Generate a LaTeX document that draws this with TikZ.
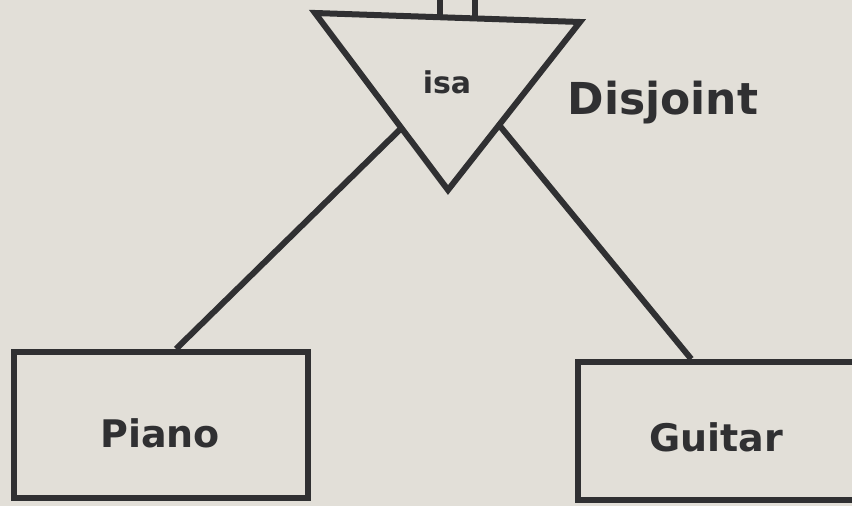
\documentclass[tikz,border=0pt]{standalone}
\usepackage{fontspec}
\setmainfont{DejaVu Sans}
\usetikzlibrary{calc}
\definecolor{bg}{RGB}{226,223,216}
\definecolor{ink}{RGB}{48,48,50}
\begin{document}
\begin{tikzpicture}[x=1pt,y=1pt,
  er/.style={draw=ink, line width=6pt},
  entity/.style={draw=ink, line width=6pt, font=\bfseries\fontsize{37}{40}\selectfont, text=ink},
  lbl/.style={font=\bfseries\fontsize{#1}{#1}\selectfont, text=ink, inner sep=0pt}]
\useasboundingbox (0,0) rectangle (852,506);
\fill[bg] (0,0) rectangle (852,506);
\clip (0,0) rectangle (852,506);
% triangle corners (y = 506 - pixel y)
\coordinate (tl) at (315,493);
\coordinate (tr) at (580,484);
\coordinate (ap) at (448,316);
\draw[er, line join=miter] (tl) -- (tr) -- (ap) -- cycle;
% double line at top
\coordinate (d1) at ($(tl)!0.472!(tr)$);
\coordinate (d2) at ($(tl)!0.604!(tr)$);
\coordinate (d1t) at ($(d1)+(0,30)$);
\coordinate (d2t) at ($(d2)+(0,30)$);
\draw[er] (d1) -- (d1t);
\draw[er] (d2) -- (d2t);
\node[lbl=30] (isa) at (447,424) {isa};
\node[lbl=44] (dis) at (663,403) {Disjoint};
% entity boxes
\node[entity, minimum width=294pt, minimum height=146pt, inner sep=0pt] (piano) at (161,81) {};
\node[lbl=38] (pianot) at (160,73) {Piano};
\node[entity, minimum width=292pt, minimum height=138pt, inner sep=0pt] (guitar) at (724,75) {};
\node[lbl=38] (guitart) at (716,69) {Guitar};
% connectors
\coordinate (le) at ($(tl)!0.65!(ap)$);
\coordinate (re) at ($(tr)!0.613!(ap)$);
\coordinate (pa) at ($(piano.north west)!0.55!(piano.north east)$);
\coordinate (ga) at ($(guitar.north west)!0.39!(guitar.north east)$);
\draw[er] (le) -- (pa);
\draw[er] (re) -- (ga);
\end{tikzpicture}
\end{document}
